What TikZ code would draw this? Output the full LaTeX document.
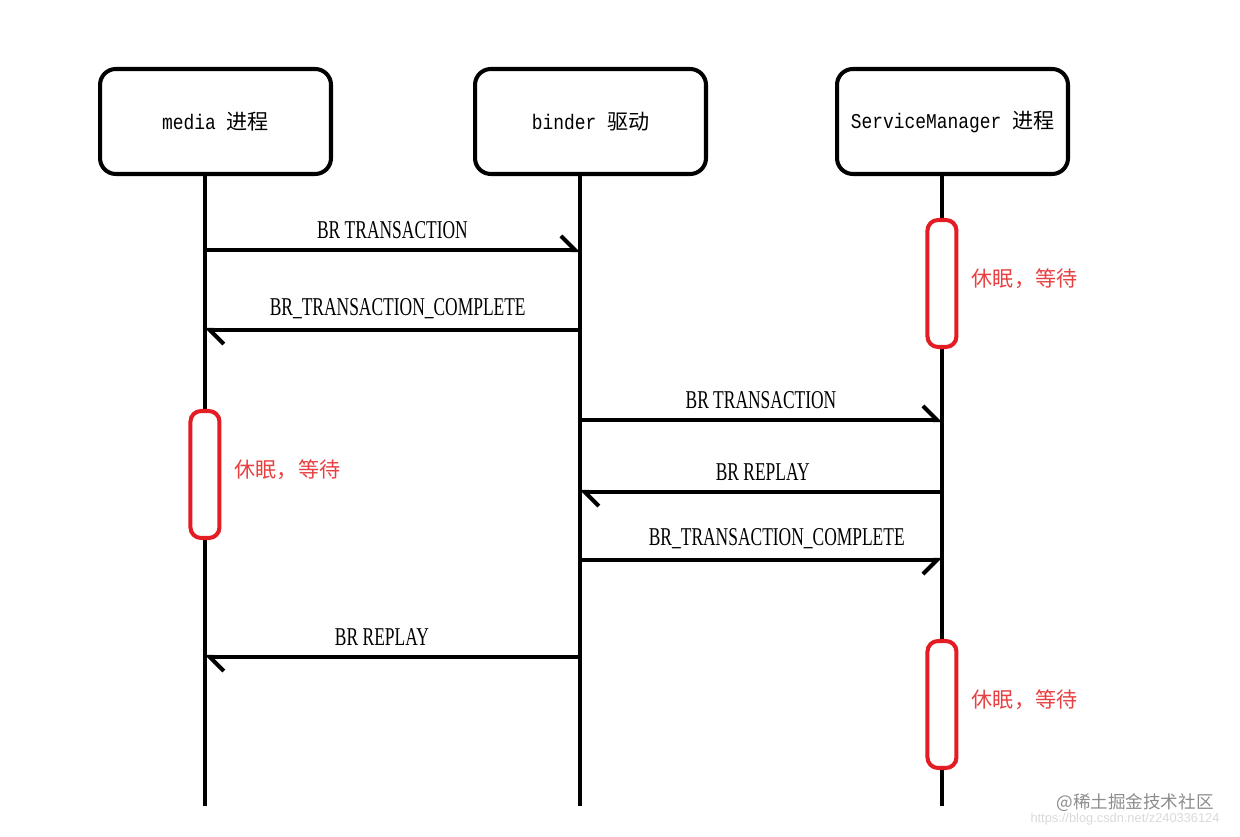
\documentclass[tikz,border=0pt]{standalone}
\usepackage{fontspec}
\setmainfont{Liberation Serif}
\newfontfamily\cjk{Noto Sans CJK SC}
\newfontfamily\boxfont[FakeStretch=0.85]{Liberation Mono}
\newfontfamily\msgfont[FakeStretch=0.68]{Liberation Serif}
\newfontfamily\wmfont{Liberation Sans}
\usetikzlibrary{
    arrows.meta,
    positioning
}
\definecolor{sleepred}{RGB}{228,28,36}
\definecolor{sleeptext}{RGB}{232,64,64}
\tikzstyle{process} = [
    draw=black,
    line width=2.3pt,
    rounded corners=9pt,
    minimum width=4.62cm,
    minimum height=2.1cm,
    inner sep=0pt
]
\tikzstyle{lifeline} = [
    line width=2.3pt,
    draw=black
]
\tikzstyle{msg} = [
    line width=2.3pt,
    -{Straight Barb[harpoon, length=8pt, width=16pt, line width=2.3pt]}
]
\tikzstyle{msgswap} = [
    line width=2.3pt,
    -{Straight Barb[harpoon, swap, length=8pt, width=16pt, line width=2.3pt]}
]
\tikzstyle{msglabel} = [
    above=5.5pt,
    inner sep=0pt,
    font=\msgfont\fontsize{14.6pt}{16pt}\selectfont
]
\tikzstyle{sleep} = [
    draw=sleepred,
    line width=2.3pt,
    fill=white,
    rounded corners=6pt,
    minimum width=0.58cm,
    minimum height=2.54cm,
    inner sep=0pt
]
\tikzstyle{sleeplabel} = [
    inner sep=0pt,
    text=sleeptext,
    font=\cjk\fontsize{12pt}{14pt}\selectfont
]

\begin{document}
\begin{tikzpicture}[x=0.02cm, y=-0.02cm]
    \useasboundingbox (0,0) rectangle (1240,837);

    % Processes
    \node[process] (media) at (215.5,121.5) {\boxfont\fontsize{12pt}{14pt}\selectfont media {\cjk 进程}};
    \node[process] (binder) at (590.5,121.5) {\boxfont\fontsize{12pt}{14pt}\selectfont binder {\cjk 驱动}};
    \node[process] (sm) at (952.5,121.5) {\boxfont\fontsize{12pt}{14pt}\selectfont ServiceManager {\cjk 进程}};

    % Lifelines
    \coordinate (mediaL) at ([xshift=-6pt]media.south);
    \coordinate (binderL) at ([xshift=-6pt]binder.south);
    \coordinate (smL) at ([xshift=-6pt]sm.south);
    \coordinate (mediaEnd) at (mediaL |- 0,806);
    \coordinate (binderEnd) at (binderL |- 0,806);
    \coordinate (smEnd) at (smL |- 0,806);
    \draw[lifeline] (mediaL) -- (mediaEnd);
    \draw[lifeline] (binderL) -- (binderEnd);
    \draw[lifeline] (smL) -- (smEnd);

    % Messages
    \foreach \y/\a/\b/\tip/\dx/\txt in {
        250/mediaL/binderL/msg/0/BR TRANSACTION,
        330/binderL/mediaL/msg/3/BR\_TRANSACTION\_COMPLETE,
        420/binderL/smL/msg/0/BR TRANSACTION,
        492/smL/binderL/msg/1/BR REPLAY,
        560/binderL/smL/msgswap/9/BR\_TRANSACTION\_COMPLETE,
        657/binderL/mediaL/msg/-6/BR REPLAY
    }
        \draw[\tip] (\a |- 0,\y) -- (\b |- 0,\y)
            node[msglabel, midway, xshift=\dx pt] (lab\y) {\txt};

    % Sleeping phases
    \node[sleep] (sleep1) at (smL |- 0,283.5) {};
    \node[sleeplabel, right=0.26cm of sleep1, yshift=2.5pt] (wait1) {休眠，等待};
    \node[sleep] (sleep2) at (mediaL |- 0,474.5) {};
    \node[sleeplabel, right=0.26cm of sleep2, yshift=2.5pt] (wait2) {休眠，等待};
    \node[sleep] (sleep3) at (smL |- 0,704.5) {};
    \node[sleeplabel, right=0.26cm of sleep3, yshift=2.5pt] (wait3) {休眠，等待};

    % Watermark
    \node[inner sep=0pt, text=black!45, font=\cjk\fontsize{10pt}{12pt}\selectfont] (mark1) at (1135,803) {@稀土掘金技术社区};
    \node[inner sep=0pt, text=black!15, font=\wmfont\fontsize{7.3pt}{9pt}\selectfont] (mark2) at (1125,819) {https://blog.csdn.net/z240336124};
\end{tikzpicture}
\end{document}
